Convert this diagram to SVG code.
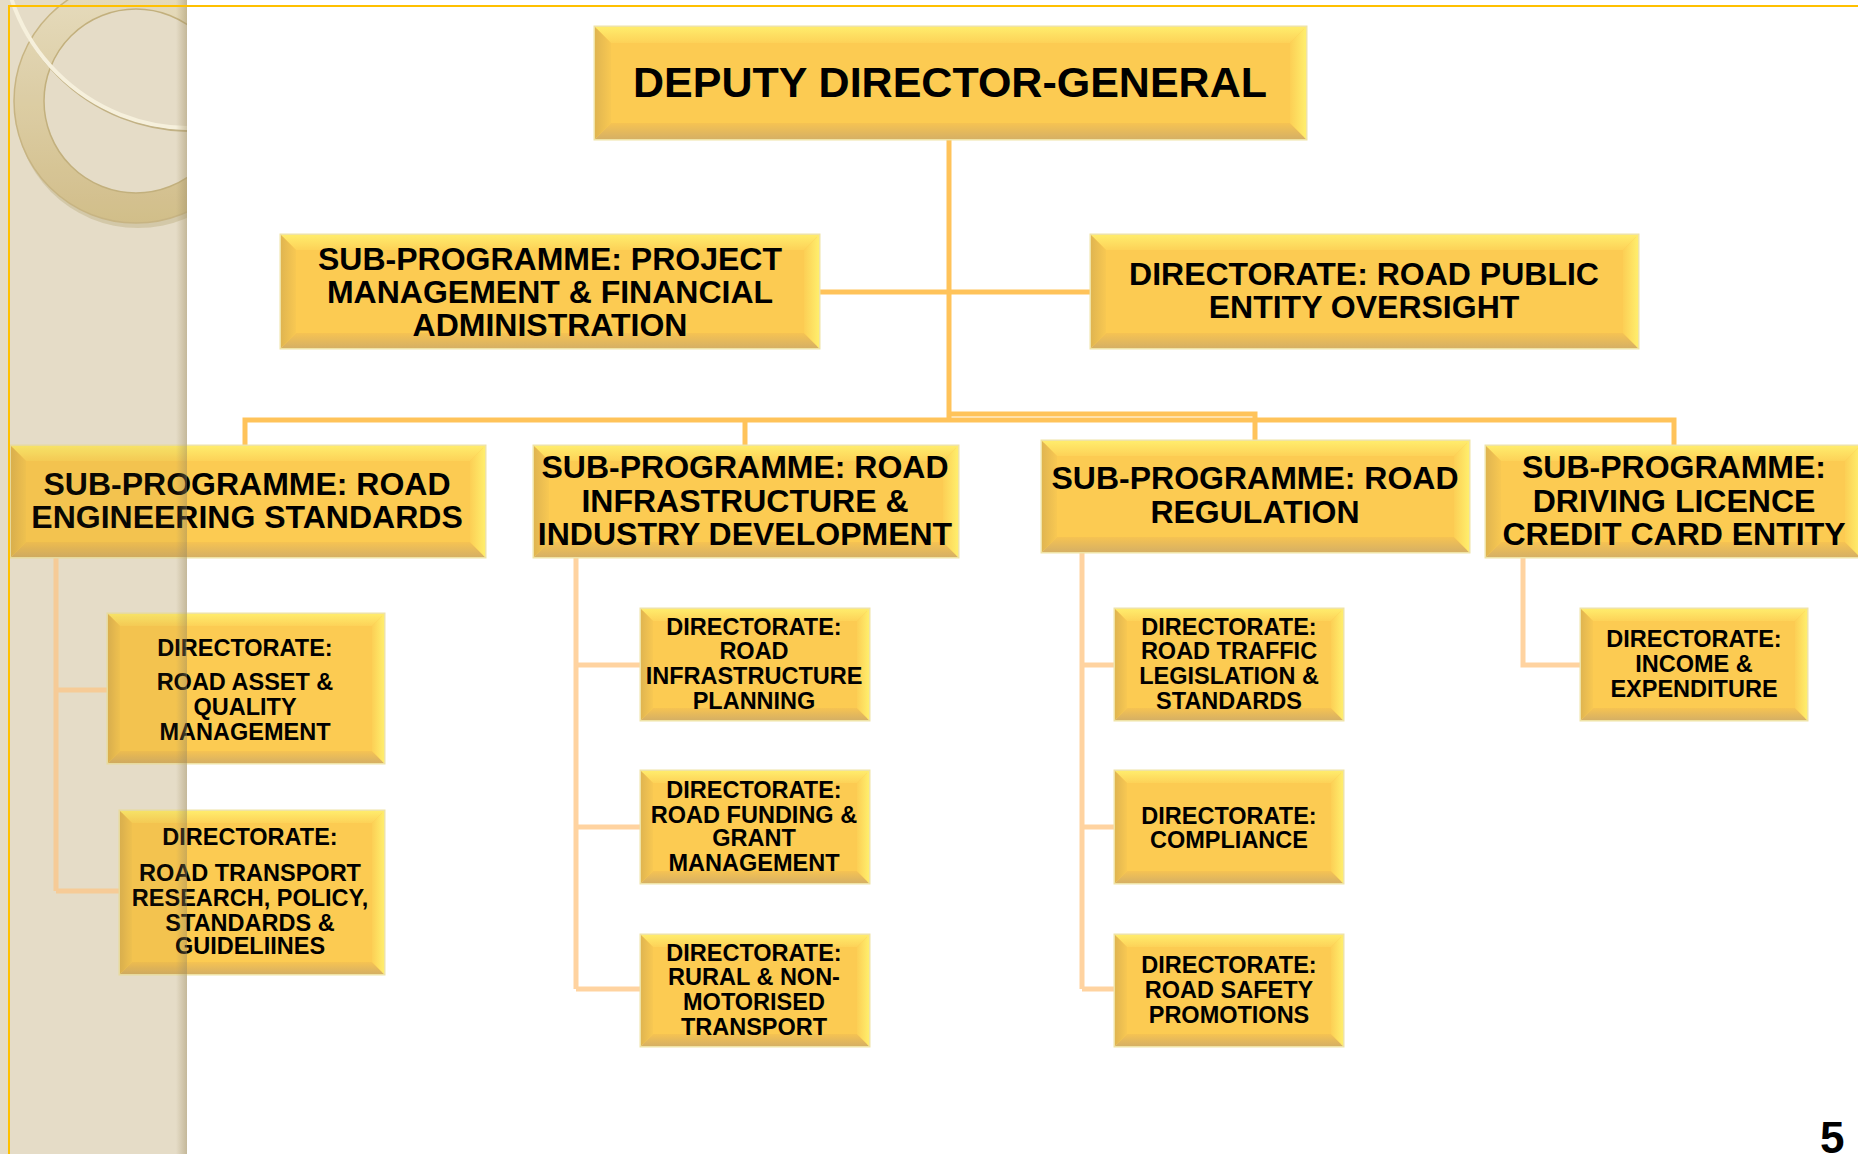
<svg xmlns="http://www.w3.org/2000/svg" width="1858" height="1154" viewBox="0 0 1858 1154">
<defs>
<style>
.base{fill:#FCCB52;stroke:#EFE3A6;stroke-width:3}
.bt{fill:url(#gTop)}
.bb{fill:url(#gBot)}
.bl{fill:url(#gLeft)}
.br{fill:url(#gRight)}
.t1,.t2,.t3{font-family:"Liberation Sans",Arial,sans-serif;font-weight:bold;fill:#000;text-anchor:middle}
.t1{font-size:43px}
.t2{font-size:32px}
.t3{font-size:23.5px}
.main{fill:none;stroke:#FFC35A;stroke-width:5}
.sub{fill:none;stroke:#FFD3A0;stroke-width:5}
</style>
<linearGradient id="gTop" x1="0" y1="0" x2="0" y2="1"><stop offset="0" stop-color="#FFEC6C"/><stop offset="1" stop-color="#FDD258"/></linearGradient>
<linearGradient id="gBot" x1="0" y1="0" x2="0" y2="1"><stop offset="0" stop-color="#F6C352"/><stop offset="1" stop-color="#D6B064"/></linearGradient>
<linearGradient id="gLeft" x1="0" y1="0" x2="1" y2="0"><stop offset="0" stop-color="#E0B550"/><stop offset="1" stop-color="#F8C852"/></linearGradient>
<linearGradient id="gRight" x1="0" y1="0" x2="1" y2="0"><stop offset="0" stop-color="#FCCF55"/><stop offset="1" stop-color="#FFEE6C"/></linearGradient>
<linearGradient id="gRing" x1="0" y1="0" x2="0" y2="1"><stop offset="0" stop-color="#EFE6CB"/><stop offset="1" stop-color="#D8C591"/></linearGradient>
<linearGradient id="gShadow" x1="0" y1="0" x2="1" y2="0"><stop offset="0" stop-color="#9C8C62" stop-opacity="0"/><stop offset="1" stop-color="#9C8C62" stop-opacity="0.45"/></linearGradient>
<clipPath id="panelClip"><rect x="0" y="0" width="187" height="1154"/></clipPath>
</defs>
<rect x="0" y="0" width="1858" height="1154" fill="#FFFFFF"/>
<g id="panel">
<rect x="0" y="0" width="187" height="1154" fill="#EDE6D3"/>
<g clip-path="url(#panelClip)">
<circle cx="136" cy="101" r="123" fill="#BFAE82" opacity="0.4" transform="translate(2,4)"/>
<circle cx="136" cy="101" r="122" fill="url(#gRing)" stroke="#CDBB8A" stroke-width="1.5"/>
<circle cx="136" cy="101" r="92" fill="#EDE6D3" stroke="#C8B684" stroke-width="1.5"/>
<circle cx="190" cy="-60" r="188" fill="none" stroke="#C8B88C" stroke-width="2" transform="translate(1,3)"/>
<circle cx="190" cy="-60" r="188" fill="none" stroke="#FFFBEA" stroke-width="4"/>
</g>
</g>
<g id="connectors">
<path class="main" d="M949,139 V420"/>
<path class="main" d="M819,292 H1091"/>
<path class="main" d="M949,414 H1255 V441"/>
<path class="main" d="M245,446 V420 H1674 V446"/>
<path class="main" d="M745,420 V446"/>
<path class="sub" d="M56,557 V891 M56,690 H108 M56,891 H120"/>
<path class="sub" d="M576,557 V989 M576,665 H641 M576,827 H641 M576,989 H641"/>
<path class="sub" d="M1082,552 V989 M1082,665 H1115 M1082,827 H1115 M1082,989 H1115"/>
<path class="sub" d="M1523,557 V665 H1581"/>
</g>
<g id="node-ddg">
<rect class="base" x="595" y="27" width="711" height="112"/>
<polygon class="bt" points="595,27 1306,27 1290,43 611,43"/>
<polygon class="bb" points="595,139 1306,139 1290,123 611,123"/>
<polygon class="bl" points="595,27 611,43 611,123 595,139"/>
<polygon class="br" points="1306,27 1290,43 1290,123 1306,139"/>
<text class="t1" x="950" y="97">DEPUTY DIRECTOR-GENERAL</text>
</g>
<g id="node-pmfa">
<rect class="base" x="281" y="235" width="538" height="113"/>
<polygon class="bt" points="281,235 819,235 804,250 296,250"/>
<polygon class="bb" points="281,348 819,348 804,333 296,333"/>
<polygon class="bl" points="281,235 296,250 296,333 281,348"/>
<polygon class="br" points="819,235 804,250 804,333 819,348"/>
<text class="t2" x="550" y="270">SUB-PROGRAMME: PROJECT</text>
<text class="t2" x="550" y="303">MANAGEMENT &amp; FINANCIAL</text>
<text class="t2" x="550" y="336">ADMINISTRATION</text>
</g>
<g id="node-rpeo">
<rect class="base" x="1091" y="235" width="547" height="113"/>
<polygon class="bt" points="1091,235 1638,235 1623,250 1106,250"/>
<polygon class="bb" points="1091,348 1638,348 1623,333 1106,333"/>
<polygon class="bl" points="1091,235 1106,250 1106,333 1091,348"/>
<polygon class="br" points="1638,235 1623,250 1623,333 1638,348"/>
<text class="t2" x="1364" y="285">DIRECTORATE: ROAD PUBLIC</text>
<text class="t2" x="1364" y="318">ENTITY OVERSIGHT</text>
</g>
<g id="node-res">
<rect class="base" x="11" y="446" width="474" height="111"/>
<polygon class="bt" points="11,446 485,446 470,461 26,461"/>
<polygon class="bb" points="11,557 485,557 470,542 26,542"/>
<polygon class="bl" points="11,446 26,461 26,542 11,557"/>
<polygon class="br" points="485,446 470,461 470,542 485,557"/>
<text class="t2" x="247" y="495">SUB-PROGRAMME: ROAD</text>
<text class="t2" x="247" y="528">ENGINEERING STANDARDS</text>
</g>
<g id="node-riid">
<rect class="base" x="534" y="446" width="424" height="111"/>
<polygon class="bt" points="534,446 958,446 943,461 549,461"/>
<polygon class="bb" points="534,557 958,557 943,542 549,542"/>
<polygon class="bl" points="534,446 549,461 549,542 534,557"/>
<polygon class="br" points="958,446 943,461 943,542 958,557"/>
<text class="t2" x="745" y="478">SUB-PROGRAMME: ROAD</text>
<text class="t2" x="745" y="511.5">INFRASTRUCTURE &amp;</text>
<text class="t2" x="745" y="545">INDUSTRY DEVELOPMENT</text>
</g>
<g id="node-rr">
<rect class="base" x="1042" y="441" width="427" height="111"/>
<polygon class="bt" points="1042,441 1469,441 1454,456 1057,456"/>
<polygon class="bb" points="1042,552 1469,552 1454,537 1057,537"/>
<polygon class="bl" points="1042,441 1057,456 1057,537 1042,552"/>
<polygon class="br" points="1469,441 1454,456 1454,537 1469,552"/>
<text class="t2" x="1255" y="489">SUB-PROGRAMME: ROAD</text>
<text class="t2" x="1255" y="523">REGULATION</text>
</g>
<g id="node-dlcc">
<rect class="base" x="1486" y="446" width="374" height="111"/>
<polygon class="bt" points="1486,446 1860,446 1845,461 1501,461"/>
<polygon class="bb" points="1486,557 1860,557 1845,542 1501,542"/>
<polygon class="bl" points="1486,446 1501,461 1501,542 1486,557"/>
<polygon class="br" points="1860,446 1845,461 1845,542 1860,557"/>
<text class="t2" x="1674" y="478">SUB-PROGRAMME:</text>
<text class="t2" x="1674" y="511.5">DRIVING LICENCE</text>
<text class="t2" x="1674" y="545">CREDIT CARD ENTITY</text>
</g>
<g id="node-raqm">
<rect class="base" x="108" y="614" width="276" height="149"/>
<polygon class="bt" points="108,614 384,614 372,626 120,626"/>
<polygon class="bb" points="108,763 384,763 372,751 120,751"/>
<polygon class="bl" points="108,614 120,626 120,751 108,763"/>
<polygon class="br" points="384,614 372,626 372,751 384,763"/>
<text class="t3" x="245" y="655.5">DIRECTORATE:</text>
<text class="t3" x="245" y="690">ROAD ASSET &amp;</text>
<text class="t3" x="245" y="714.5">QUALITY</text>
<text class="t3" x="245" y="739.5">MANAGEMENT</text>
</g>
<g id="node-rtrp">
<rect class="base" x="120" y="811" width="264" height="163"/>
<polygon class="bt" points="120,811 384,811 372,823 132,823"/>
<polygon class="bb" points="120,974 384,974 372,962 132,962"/>
<polygon class="bl" points="120,811 132,823 132,962 120,974"/>
<polygon class="br" points="384,811 372,823 372,962 384,974"/>
<text class="t3" x="250" y="845">DIRECTORATE:</text>
<text class="t3" x="250" y="880.5">ROAD TRANSPORT</text>
<text class="t3" x="250" y="905.5">RESEARCH, POLICY,</text>
<text class="t3" x="250" y="930.5">STANDARDS &amp;</text>
<text class="t3" x="250" y="954">GUIDELIINES</text>
</g>
<g id="node-rip">
<rect class="base" x="641" y="609" width="228" height="111"/>
<polygon class="bt" points="641,609 869,609 857,621 653,621"/>
<polygon class="bb" points="641,720 869,720 857,708 653,708"/>
<polygon class="bl" points="641,609 653,621 653,708 641,720"/>
<polygon class="br" points="869,609 857,621 857,708 869,720"/>
<text class="t3" x="754" y="635">DIRECTORATE:</text>
<text class="t3" x="754" y="659">ROAD</text>
<text class="t3" x="754" y="684">INFRASTRUCTURE</text>
<text class="t3" x="754" y="709">PLANNING</text>
</g>
<g id="node-rfgm">
<rect class="base" x="641" y="771" width="228" height="112"/>
<polygon class="bt" points="641,771 869,771 857,783 653,783"/>
<polygon class="bb" points="641,883 869,883 857,871 653,871"/>
<polygon class="bl" points="641,771 653,783 653,871 641,883"/>
<polygon class="br" points="869,771 857,783 857,871 869,883"/>
<text class="t3" x="754" y="797.5">DIRECTORATE:</text>
<text class="t3" x="754" y="822.5">ROAD FUNDING &amp;</text>
<text class="t3" x="754" y="846">GRANT</text>
<text class="t3" x="754" y="871">MANAGEMENT</text>
</g>
<g id="node-rnmt">
<rect class="base" x="641" y="935" width="228" height="111"/>
<polygon class="bt" points="641,935 869,935 857,947 653,947"/>
<polygon class="bb" points="641,1046 869,1046 857,1034 653,1034"/>
<polygon class="bl" points="641,935 653,947 653,1034 641,1046"/>
<polygon class="br" points="869,935 857,947 857,1034 869,1046"/>
<text class="t3" x="754" y="961">DIRECTORATE:</text>
<text class="t3" x="754" y="985">RURAL &amp; NON-</text>
<text class="t3" x="754" y="1010">MOTORISED</text>
<text class="t3" x="754" y="1034.5">TRANSPORT</text>
</g>
<g id="node-rtls">
<rect class="base" x="1115" y="609" width="228" height="111"/>
<polygon class="bt" points="1115,609 1343,609 1331,621 1127,621"/>
<polygon class="bb" points="1115,720 1343,720 1331,708 1127,708"/>
<polygon class="bl" points="1115,609 1127,621 1127,708 1115,720"/>
<polygon class="br" points="1343,609 1331,621 1331,708 1343,720"/>
<text class="t3" x="1229" y="635">DIRECTORATE:</text>
<text class="t3" x="1229" y="659">ROAD TRAFFIC</text>
<text class="t3" x="1229" y="684">LEGISLATION &amp;</text>
<text class="t3" x="1229" y="709">STANDARDS</text>
</g>
<g id="node-comp">
<rect class="base" x="1115" y="771" width="228" height="112"/>
<polygon class="bt" points="1115,771 1343,771 1331,783 1127,783"/>
<polygon class="bb" points="1115,883 1343,883 1331,871 1127,871"/>
<polygon class="bl" points="1115,771 1127,783 1127,871 1115,883"/>
<polygon class="br" points="1343,771 1331,783 1331,871 1343,883"/>
<text class="t3" x="1229" y="823.5">DIRECTORATE:</text>
<text class="t3" x="1229" y="847.5">COMPLIANCE</text>
</g>
<g id="node-rsp">
<rect class="base" x="1115" y="935" width="228" height="111"/>
<polygon class="bt" points="1115,935 1343,935 1331,947 1127,947"/>
<polygon class="bb" points="1115,1046 1343,1046 1331,1034 1127,1034"/>
<polygon class="bl" points="1115,935 1127,947 1127,1034 1115,1046"/>
<polygon class="br" points="1343,935 1331,947 1331,1034 1343,1046"/>
<text class="t3" x="1229" y="973">DIRECTORATE:</text>
<text class="t3" x="1229" y="998">ROAD SAFETY</text>
<text class="t3" x="1229" y="1023">PROMOTIONS</text>
</g>
<g id="node-ie">
<rect class="base" x="1581" y="609" width="226" height="111"/>
<polygon class="bt" points="1581,609 1807,609 1795,621 1593,621"/>
<polygon class="bb" points="1581,720 1807,720 1795,708 1593,708"/>
<polygon class="bl" points="1581,609 1593,621 1593,708 1581,720"/>
<polygon class="br" points="1807,609 1795,621 1795,708 1807,720"/>
<text class="t3" x="1694" y="647">DIRECTORATE:</text>
<text class="t3" x="1694" y="672">INCOME &amp;</text>
<text class="t3" x="1694" y="697">EXPENDITURE</text>
</g>
<g id="panel-overlay">
<rect x="0" y="0" width="187" height="1154" fill="#806A30" opacity="0.07"/>
<rect x="176" y="0" width="11" height="1154" fill="url(#gShadow)"/>
</g>
<rect x="9" y="6" width="1880" height="1180" fill="none" stroke="#FFC000" stroke-width="2"/>
<text x="1820" y="1153" font-family="'Liberation Sans',Arial,sans-serif" font-weight="bold" font-size="44" fill="#000">5</text>
</svg>
